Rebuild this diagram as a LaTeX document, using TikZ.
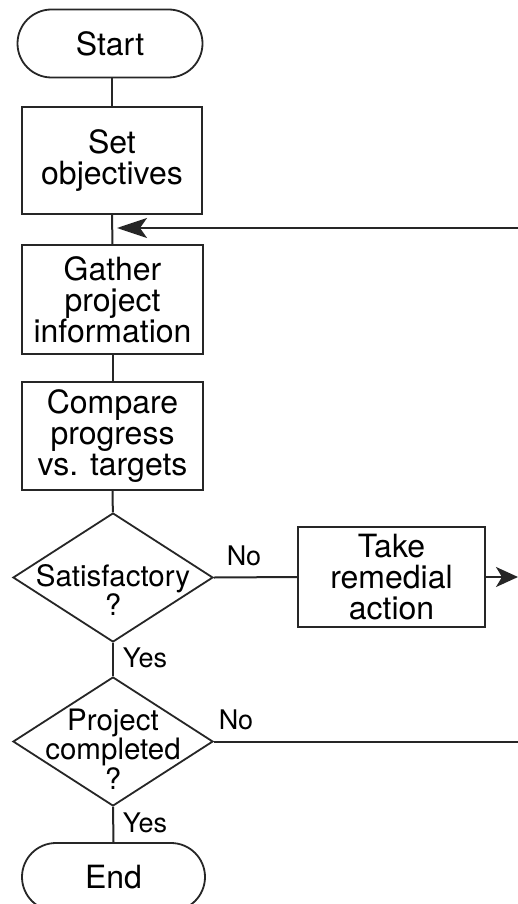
\documentclass[tikz,border=0pt]{standalone}
\usepackage{fontspec}
\setmainfont{TeX Gyre Heros}
\usetikzlibrary{shapes.geometric,shapes.misc,arrows.meta}
\begin{document}
\begin{tikzpicture}[x=1pt,y=-1pt,
 line/.style={draw=black!85, line width=1.8pt},
 boxnode/.style={line, rectangle, inner sep=0pt, align=center, font=\fontsize{32}{31}\selectfont},
 term/.style={line, rounded rectangle, inner sep=0pt, font=\fontsize{32}{31}\selectfont, minimum width=185pt, minimum height=68pt},
 dec/.style={line, diamond, inner sep=0pt, minimum width=200pt, minimum height=129pt},
 dtext/.style={align=center, inner sep=0pt, font=\fontsize{29.5}{29.5}\selectfont},
 lab/.style={inner sep=0pt, font=\fontsize{27}{27}\selectfont},
 conn/.style={draw=black!85, line width=2pt},
 bigtip/.tip={Stealth[length=30pt,width=20pt,inset=7pt]},
 smalltip/.tip={Stealth[length=22pt,width=20pt,inset=6pt]},
]
\clip (0,0) rectangle (518,904);
\fill[white] (0,0) rectangle (518,904);
\node[term] (start) at (110,43.5) {Start};
\node[boxnode, minimum width=180pt, minimum height=107pt] (setobj) at (112,160.5) {Set\\objectives};
\node[boxnode, minimum width=181pt, minimum height=109pt] (gather) at (112.5,299.5) {Gather\\project\\information};
\node[boxnode, minimum width=181pt, minimum height=108pt] (compare) at (112.5,436) {Compare\\progress\\vs. targets};
\node[dec] (sat) at (113,577.5) {};
\node[dtext] (sattext) at (113,590) {Satisfactory\\?};
\node[boxnode, minimum width=187pt, minimum height=100pt] (take) at (391.5,577) {Take\\remedial\\action};
\node[dec] (proj) at (113,741.5) {};
\node[dtext] (projtext) at (113,749) {Project\\completed\\?};
\node[term, minimum width=183pt] (endn) at (113.5,877) {End};

\coordinate (loopin) at (518,228);
\coordinate (takeout) at (518,577);
\coordinate (projout) at (518,741.5);

\draw[conn] (setobj.north) -- (setobj.north |- start.south);
\draw[conn] (setobj) -- (gather);
\draw[conn, -bigtip, shorten >=5pt] (loopin) -- (loopin -| setobj.south);
\draw[conn] (gather) -- (compare);
\draw[conn] (compare) -- (sat);
\draw[conn] (sat.east) -- (take.west);
\draw[conn, -smalltip] (take.east) -- (takeout);
\draw[conn] (sat.south) -- (proj.north);
\draw[conn] (proj.east) -- (projout);
\draw[conn] (proj.south) -- (endn.north);

\node[lab] (no1) at (244,556) {No};
\node[lab] (yes1) at (145,658) {Yes};
\node[lab] (no2) at (236,720) {No};
\node[lab] (yes2) at (145,823) {Yes};
\end{tikzpicture}
\end{document}
